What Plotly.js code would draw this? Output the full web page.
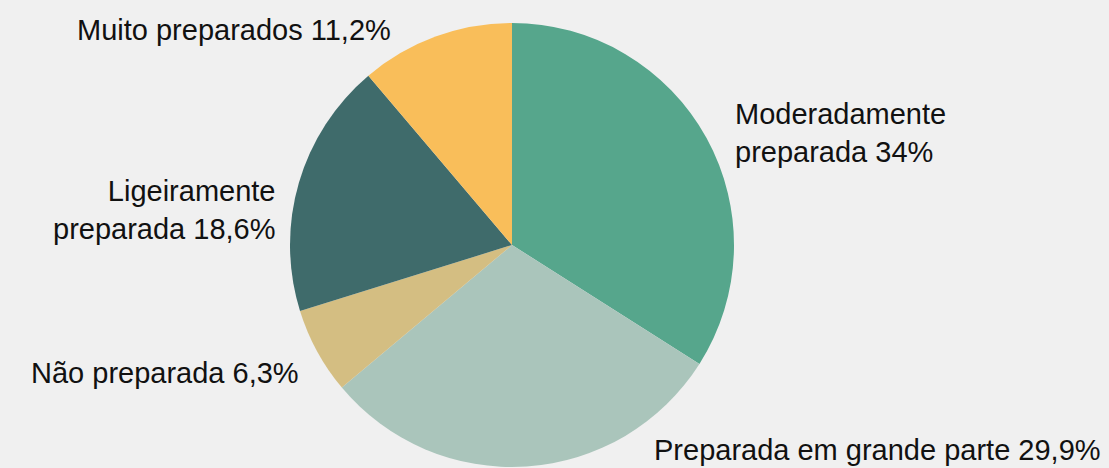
<!DOCTYPE html>
<html>
<head>
<meta charset="utf-8">
<script src="https://cdn.plot.ly/plotly-3.0.1.min.js"></script>
<style>html,body{margin:0;padding:0;background:#f0f0f0;}#chart{width:1109px;height:468px;}</style>
</head>
<body>
<div id="chart"></div>
<script>
const categories = ['Moderadamente<br>preparada', 'Preparada em grande parte', 'Não preparada', 'Ligeiramente<br>preparada', 'Muito preparados'];
const values = [34, 29.9, 6.3, 18.6, 11.2];
const colors = ['#56a68c', '#aac5bb', '#d4be82', '#3f6b6b', '#f9be5a'];

// label placement (pixels from top-left) and anchoring
const labelPos = [
  {x: 733, y: 133, xa: 'left', al: 'left'},
  {x: 652, y: 450, xa: 'left', al: 'left'},
  {x: 301, y: 373, xa: 'right', al: 'right'},
  {x: 278, y: 210, xa: 'right', al: 'right'},
  {x: 393, y: 30, xa: 'right', al: 'right'}
];

const W = 1109, H = 468;
const fmt = v => String(v).replace('.', ',') + '%';

const annotations = categories.map((c, i) => ({
  text: c + ' ' + fmt(values[i]),
  x: labelPos[i].x / W, y: 1 - labelPos[i].y / H,
  xref: 'paper', yref: 'paper',
  xanchor: labelPos[i].xa, yanchor: 'middle', align: labelPos[i].al,
  showarrow: false,
  font: {family: 'Liberation Sans, Arial, sans-serif', size: 29, color: '#111'}
}));

const cx = 512, cy = 245, r = 222;
const trace = {
  type: 'pie',
  labels: categories,
  values: values,
  sort: false,
  direction: 'clockwise',
  rotation: 0,
  textinfo: 'none',
  hoverinfo: 'label+percent',
  marker: {colors: colors, line: {width: 0}},
  domain: {x: [(cx - r) / W, (cx + r) / W], y: [1 - (cy + r) / H, 1 - (cy - r) / H]},
  showlegend: false
};

Plotly.newPlot('chart', [trace], {
  width: W, height: H,
  margin: {l: 0, r: 0, t: 0, b: 0},
  paper_bgcolor: '#f0f0f0',
  plot_bgcolor: '#f0f0f0',
  annotations: annotations,
  showlegend: false
}, {displayModeBar: false, staticPlot: true});
</script>
</body>
</html>
